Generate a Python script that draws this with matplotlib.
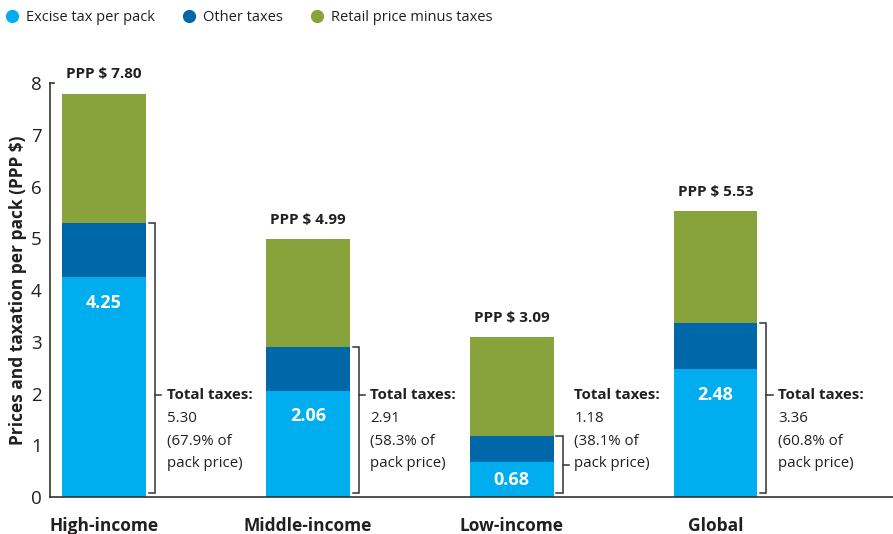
import matplotlib

matplotlib.use("Agg")
import matplotlib.pyplot as plt
from matplotlib.lines import Line2D

plt.rcParams["font.family"] = ["Open Sans", "DejaVu Sans"]

# data
categories = ["High-income", "Middle-income", "Low-income", "Global"]
pack_price = [7.80, 4.99, 3.09, 5.53]
excise_tax = [4.25, 2.06, 0.68, 2.48]
total_tax = [5.30, 2.91, 1.18, 3.36]
tax_share = ["67.9%", "58.3%", "38.1%", "60.8%"]

other_tax = [t - e for t, e in zip(total_tax, excise_tax)]
retail_net = [p - t for p, t in zip(pack_price, total_tax)]

c_excise = "#00aeef"
c_other = "#0067a8"
c_retail = "#88a33c"
c_text = "#231f20"

fig = plt.figure(figsize=(8.93, 5.34), dpi=100)
ax = fig.add_axes([0.056, 0.069, 0.944, 0.775])

x = list(range(len(categories)))
w = 0.41
ax.bar(x, excise_tax, w, color=c_excise)
ax.bar(x, other_tax, w, bottom=excise_tax, color=c_other)
ax.bar(x, retail_net, w, bottom=total_tax, color=c_retail)

ax.set_xlim(-0.265, 3.87)
ax.set_ylim(0, 8)
ax.set_yticks(range(9))
ax.tick_params(axis="y", length=0, pad=6, labelsize=13.5, labelcolor=c_text)
ax.set_xticks(x)
ax.set_xticklabels(categories, fontsize=12.5, fontweight="bold", color=c_text)
ax.tick_params(axis="x", length=0, pad=14)
for s in ["top", "right"]:
    ax.spines[s].set_visible(False)
for s in ["left", "bottom"]:
    ax.spines[s].set_color("#333333")
    ax.spines[s].set_linewidth(1.2)
# small cap at the top of the y axis
ax.plot([-0.265, -0.245], [8, 8], color="#333333", lw=1.2, clip_on=False)
ax.set_ylabel("Prices and taxation per pack (PPP $)", fontsize=12.5,
              fontweight="bold", color=c_text, labelpad=3)

text_y = 1.97
for i in x:
    # price on top
    ax.annotate(f"PPP $ {pack_price[i]:.2f}", (i, pack_price[i]),
                xytext=(0, 9), textcoords="offset points", ha="center",
                va="bottom", fontsize=11, fontweight="bold", color=c_text)
    # excise value inside bar
    yv = max(excise_tax[i] - 0.5, excise_tax[i] / 2)
    ax.text(i, yv, f"{excise_tax[i]:.2f}", ha="center", va="center",
            fontsize=13, fontweight="bold", color="white")

    # bracket for total taxes
    bx = i + w / 2 + 0.044
    lo, hi = 0.08, total_tax[i]
    ax.plot([bx - 0.03, bx, bx, bx - 0.03], [hi, hi, lo, lo],
            color="#333333", lw=1.1, solid_joinstyle="miter")
    ty = text_y if text_y < hi else (lo + hi) / 2
    ax.plot([bx, bx + 0.03], [ty, ty], color="#333333", lw=1.1)

    tx = bx + 0.058
    ax.annotate("Total taxes:", (tx, text_y), ha="left", va="center",
                fontsize=10.8, fontweight="bold", color=c_text)
    lines = [f"{total_tax[i]:.2f}", f"({tax_share[i]} of", "pack price)"]
    for k, s in enumerate(lines):
        ax.annotate(s, (tx, text_y), xytext=(0, -16.5 * (k + 1)),
                    textcoords="offset points", ha="left", va="center",
                    fontsize=10.8, color=c_text)

handles = [Line2D([], [], marker="o", ls="", color=c, markersize=8.5)
           for c in [c_excise, c_other, c_retail]]
fig.legend(handles, ["Excise tax per pack", "Other taxes", "Retail price minus taxes"],
           loc="upper left", bbox_to_anchor=(0.007, 0.981), ncol=3, frameon=False,
           fontsize=10.5, handlelength=0.8, handletextpad=0.55, columnspacing=1.95,
           borderpad=0, borderaxespad=0, labelcolor=c_text)

fig.savefig("out.png", dpi=100)
